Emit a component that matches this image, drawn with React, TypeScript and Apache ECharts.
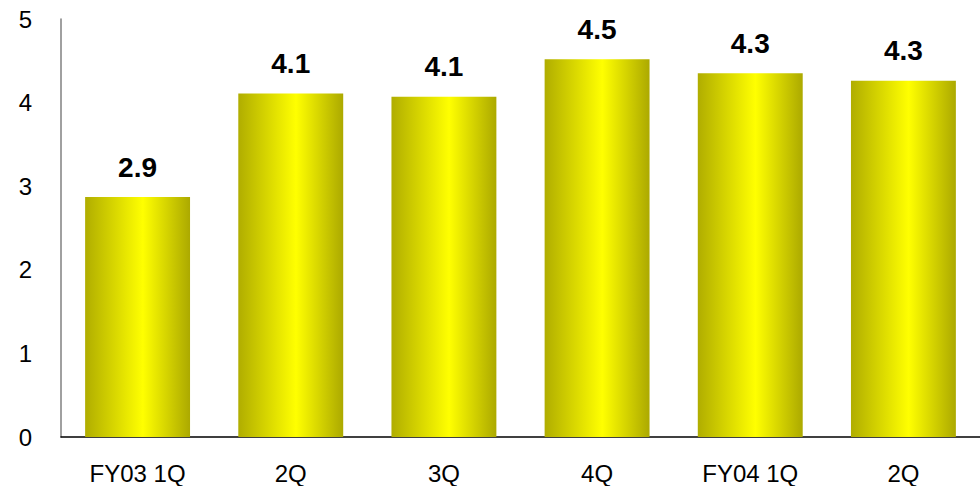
import React, { useEffect, useRef } from "react";
import * as echarts from "echarts";

const categories = ["FY03 1Q", "2Q", "3Q", "4Q", "FY04 1Q", "2Q"];
const values = [2.87, 4.11, 4.07, 4.52, 4.35, 4.26];
const valueLabels = ["2.9", "4.1", "4.1", "4.5", "4.3", "4.3"];
const yTicks = [0, 1, 2, 3, 4, 5];

export default function App() {
  const ref = useRef<HTMLDivElement>(null);
  useEffect(() => {
    if (!ref.current) return;
    const chart = echarts.init(ref.current, undefined, { renderer: "svg" });
    const font = "Arial, 'Liberation Sans', sans-serif";
    chart.setOption({
      animation: false,
      backgroundColor: "#ffffff",
      grid: { left: 61, right: 0, top: 19, bottom: 49, containLabel: false },
      xAxis: {
        type: "category",
        data: categories,
        axisLine: { lineStyle: { color: "#000000", width: 1.5 } },
        axisTick: { show: false },
        axisLabel: { color: "#000000", fontSize: 24, fontFamily: font, margin: 24 },
      },
      yAxis: {
        type: "value",
        min: yTicks[0],
        max: yTicks[yTicks.length - 1],
        interval: 1,
        axisLine: { show: true, lineStyle: { color: "#808080", width: 1.5 } },
        axisTick: { show: false },
        splitLine: { show: false },
        axisLabel: { color: "#000000", fontSize: 24, fontFamily: font, margin: 29 },
      },
      series: [
        {
          type: "bar",
          data: values,
          barWidth: "68.5%",
          itemStyle: {
            color: new echarts.graphic.LinearGradient(0, 0, 1, 0, [
              { offset: 0, color: "#b0ad00" },
              { offset: 0.55, color: "#ffff00" },
              { offset: 1, color: "#aca900" },
            ]),
          },
          label: {
            show: true,
            position: "top",
            distance: 16,
            color: "#000000",
            fontSize: 28,
            fontWeight: "bold",
            fontFamily: font,
            formatter: (p: any) => valueLabels[p.dataIndex],
          },
        },
      ],
    });
    return () => chart.dispose();
  }, []);
  return (
    <div
      ref={ref}
      style={{ position: "fixed", left: 0, top: 0, width: 980, height: 486 }}
    />
  );
}
